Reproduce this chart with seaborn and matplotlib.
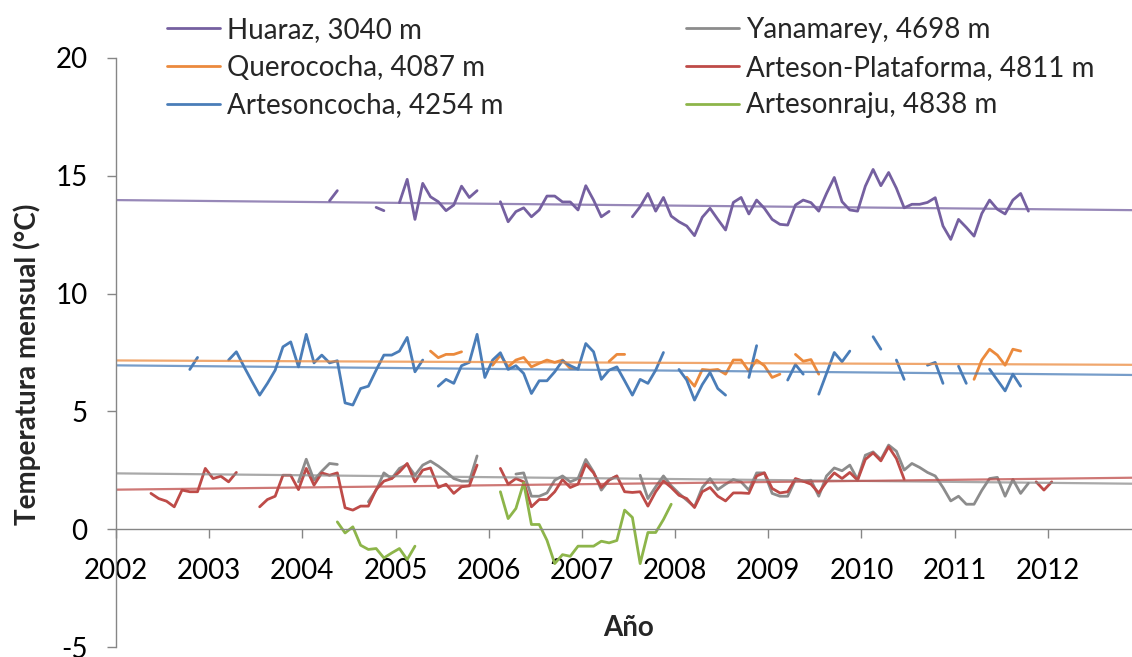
import numpy as np
import pandas as pd
import matplotlib
matplotlib.use("Agg")
import matplotlib.pyplot as plt
from matplotlib.lines import Line2D
import seaborn as sns

# ---------------- data (monthly means, °C) ----------------
# index 0 = January 2002; None = missing month
huaraz_start = 27
huaraz = [13.94, 14.37, None, None, None, None, 13.66, 13.52, None,
          13.86, 14.85, 13.15, 14.68, 14.11, 13.90, 13.52, 13.76, 14.56, 14.08, 14.37,
          None, None,
          13.90, 13.05, 13.48, 13.64, 13.26, 13.55, 14.14, 14.14, 13.89, 13.89, 13.55,
          14.58, 13.97, 13.26, 13.49, None, None,
          13.26, 13.69, 14.25, 13.50, 14.08, 13.29, 13.05, 12.87, 12.46, 13.24, 13.62,
          13.15, 12.70, 13.87, 14.08, 13.38, 13.97, 13.62, 13.15, 12.94, 12.91, 13.76,
          13.97, 13.86, 13.50, 14.25, 14.93, 13.90, 13.55, 13.50, 14.56, 15.27, 14.58,
          15.14, 14.47, 13.64, 13.79, 13.79, 13.87, 14.07, 12.87, 12.30, 13.15, 12.81,
          12.44, 13.40, 13.97, 13.58, 13.38, 13.97, 14.25, 13.50]

querococha_start = 40
querococha = [7.56, 7.28, 7.42, 7.42, 7.53, None, None, None,
              6.96, 7.39, 6.89, 7.18, 7.29, 6.89, 7.04, 7.18, 7.08, 7.18, 6.82, 6.82,
              None, None, None, 7.12, 7.42, 7.42,
              None, None, None, None, None, None, None,
              6.45, 6.07, 6.78, 6.75, 6.78, 6.58, 7.18, 7.18, 6.71, 7.18, 6.94, 6.44, 6.58,
              None, 7.42, 7.13, 7.20, 6.58,
              None, None, None, None, None, None, None, None, None, None,
              None, None, None, None, None, None, None, None, None,
              6.36, 7.18, 7.64, 7.39, 6.96, 7.64, 7.56]

artesoncocha_start = 9
artesoncocha = [6.78, 7.29, None, None, None,
                7.18, 7.53, 6.89, 6.28, 5.69, 6.19, 6.75, 7.74, 7.95, 6.89, 8.27, 7.06,
                7.39, 7.06, 7.15, 5.36, 5.27, 5.97, 6.07, 6.75, 7.39, 7.39, 7.56, 8.14,
                6.68, 7.18, None,
                6.07, 6.36, 6.19, 6.94, 7.08, 8.27, 6.44, 7.18, 7.49, 6.78, 6.94, 6.61,
                5.76, 6.30, 6.30, 6.68, 7.15, 6.94, 6.79, 7.88, 7.53, 6.36, 6.75, 6.89,
                6.30, 5.69, 6.36, 6.19, 6.75, 7.50, None,
                6.78, 6.33, 5.48, 6.14, 6.65, 5.97, 5.69, None, None,
                6.44, 7.79, None, None, None, 6.33, 6.99, 6.58, None,
                5.73, 6.61, 7.50, 7.11, 7.56, None, None, 8.17, 7.64, None,
                7.18, 6.36, None, None, 6.96, 7.08, 6.19, None, 6.92, 6.19, None, None,
                6.79, 6.33, 5.87, 6.58, 6.07]

yanamarey_start = 23
yanamarey = [2.01, 2.97, 2.08, 2.46, 2.79, 2.75, None, None, None,
             1.16, 1.66, 2.39, 2.15, 2.58, 2.75, 2.29, 2.72, 2.89, 2.68, 2.43, 2.15,
             2.04, 2.04, 3.11, None, None, None, None,
             2.34, 2.39, 1.40, 1.40, 1.54, 2.08, 2.26, 2.01, 2.15, 2.96, 2.43, 1.66,
             2.08, 2.26, None, None,
             2.29, 1.30, 1.80, 2.26, 1.84, 1.52, 1.23, 0.95, 1.77, 2.15, 1.68, 1.91,
             2.11, 2.01, 1.66, 2.39, 2.39, 1.52, 1.40, 1.40, 2.11, 2.04, 2.08, 1.40,
             2.26, 2.60, 2.48, 2.72, 2.11, 3.14, 3.28, 2.96, 3.57, 3.31, 2.51, 2.79,
             2.62, 2.41, 2.26, 1.77, 1.20, 1.40, 1.06, 1.06, 1.65, 2.15, 2.20, 1.40,
             2.11, 1.52, 1.95]

plataforma_start = 4
plataforma = [1.52, 1.30, 1.19, 0.95, 1.66, 1.59, 1.59, 2.58, 2.15, 2.25, 2.01, 2.41,
              None, None,
              0.95, 1.26, 1.40, 2.29, 2.29, 1.68, 2.58, 1.87, 2.39, 2.29, 2.39, 0.91,
              0.81, 0.98, 0.98, 1.68, 2.04, 2.15, 2.43, 2.79, 2.01, 2.51, 2.60, 1.77,
              1.91, 1.52, 1.80, 1.84, 2.72, None, None,
              2.58, 1.91, 2.15, 2.01, 0.95, 1.26, 1.26, 1.59, 2.11, 1.77, 1.91, 2.76,
              2.39, 1.77, 2.10, 2.26, 1.59, 1.56, 1.59, 0.98, 1.59, 2.05, 1.77, 1.44,
              1.30, 0.92, 1.59, 1.77, 1.40, 1.20, 1.54, 1.54, 1.52, 2.26, 2.39, 1.73,
              1.54, 1.59, 2.15, 2.04, 1.91, 1.54, 2.01, 2.39, 2.15, 2.41, 2.08, 2.96,
              3.24, 2.90, 3.50, 3.00, 2.12,
              None, None, None, None, None, None, None, None,
              None, None, None, None, None, None, None, None,
              2.01, 1.66, 2.01]

artesonraju_start = 28
artesonraju = [0.31, -0.16, 0.10, -0.68, -0.86, -0.82, -1.22, -1.01, -0.82, -1.29, -0.72,
               None, None, None, None, None, None, None, None, None, None,
               1.59, 0.45, 0.88, 1.97, 0.20, 0.20, -0.47, -1.46, -1.08, -1.15, -0.72,
               -0.72, -0.72, -0.51, -0.58, -0.48, 0.81, 0.50, -1.46, -0.14, -0.14, 0.41,
               1.06]

stations = ["Huaraz, 3040 m", "Yanamarey, 4698 m", "Querococha, 4087 m",
            "Arteson-Plataforma, 4811 m", "Artesoncocha, 4254 m", "Artesonraju, 4838 m"]
series = [(huaraz_start, huaraz), (yanamarey_start, yanamarey),
          (querococha_start, querococha), (plataforma_start, plataforma),
          (artesoncocha_start, artesoncocha), (artesonraju_start, artesonraju)]
colors = ["#7560A0", "#8C8C8C", "#EB8A3D", "#BE4B48", "#4A7DB8", "#8DB54A"]
with_trend = [True, True, True, True, True, False]

year_ticks = list(range(2002, 2014))
year_labels = [str(y) for y in range(2002, 2013)] + [""]

# ---------------- build long table ----------------
frames = []
for name, (start, vals) in zip(stations, series):
    v = pd.Series([np.nan if x is None else x for x in vals], dtype=float)
    idx = np.arange(start, start + len(v))
    seg = v.isna().cumsum()
    df = pd.DataFrame({"station": name, "year": 2002 + (idx + 0.5) / 12.0,
                       "temp": v.values, "seg": seg.values})
    frames.append(df.dropna())
data = pd.concat(frames, ignore_index=True)

# ---------------- figure ----------------
sns.set_style("ticks")
plt.rcParams["font.family"] = ["Lato", "DejaVu Sans"]
plt.rcParams["axes.unicode_minus"] = False
FS = 20
W, H = 1132, 657
fig = plt.figure(figsize=(W / 100, H / 100), dpi=100)
ax = fig.add_axes([116 / W, 10 / H, 1025 / W, 589 / H])
ax.set_xlim(2002, 2013)
ax.set_ylim(-5, 20)

for name, col in zip(stations, colors):
    sub = data[data["station"] == name]
    sns.lineplot(data=sub, x="year", y="temp", units="seg", estimator=None,
                 color=col, lw=2.0, ax=ax, legend=False)

ax.set_xlim(2002, 2013)
for name, col, tr in zip(stations, colors, with_trend):
    if not tr:
        continue
    sub = data[data["station"] == name]
    sns.regplot(data=sub, x="year", y="temp", scatter=False, ci=None,
                truncate=False, color=col, ax=ax,
                line_kws={"lw": 1.6, "alpha": 0.75})
ax.set_xlim(2002, 2013)
ax.set_ylim(-5, 20)

# axes styling
axis_col = "#868686"
for s in ["top", "right"]:
    ax.spines[s].set_visible(False)
ax.spines["left"].set_color(axis_col)
ax.spines["bottom"].set_color(axis_col)
ax.spines["left"].set_linewidth(1.0)
ax.spines["bottom"].set_linewidth(1.0)
ax.spines["bottom"].set_position(("data", 0))
ax.set_yticks([-5, 0, 5, 10, 15, 20])
ax.set_xticks(year_ticks)
ax.set_xticklabels(year_labels)
ax.tick_params(axis="y", direction="out", length=6.5, width=1.0, color=axis_col,
               labelsize=FS, labelcolor="black", pad=14)
ax.tick_params(axis="x", direction="out", length=6.5, width=1.0, color=axis_col,
               labelsize=FS, labelcolor="black", pad=14)
ax.grid(False)

ax.set_xlabel("Año", fontsize=FS, fontweight="bold")
ax.set_ylabel("Temperatura mensual (°C)", fontsize=FS, fontweight="bold")
ax.xaxis.set_label_coords(0.5, (647 - 628) / 589)
ax.xaxis.label.set_va("center")
ax.yaxis.set_label_coords((27 - 116) / 1025, (647 - 364) / 589)
ax.yaxis.label.set_va("center")

# legends (two columns placed as in the reference)
handles = [Line2D([], [], color=c, lw=2.0) for c in colors]
left = [0, 2, 4]
right = [1, 3, 5]
common = dict(loc="upper left", frameon=False, borderpad=0, borderaxespad=0,
              handlelength=1.9, handletextpad=0.25, labelspacing=0.42, fontsize=FS)
fig.legend([handles[i] for i in left], [stations[i] for i in left],
           bbox_to_anchor=(167 / W, 1 - 17 / H), **common)
fig.legend([handles[i] for i in right], [stations[i] for i in right],
           bbox_to_anchor=(686 / W, 1 - 17 / H), **common)

fig.savefig("out.png", dpi=100)
